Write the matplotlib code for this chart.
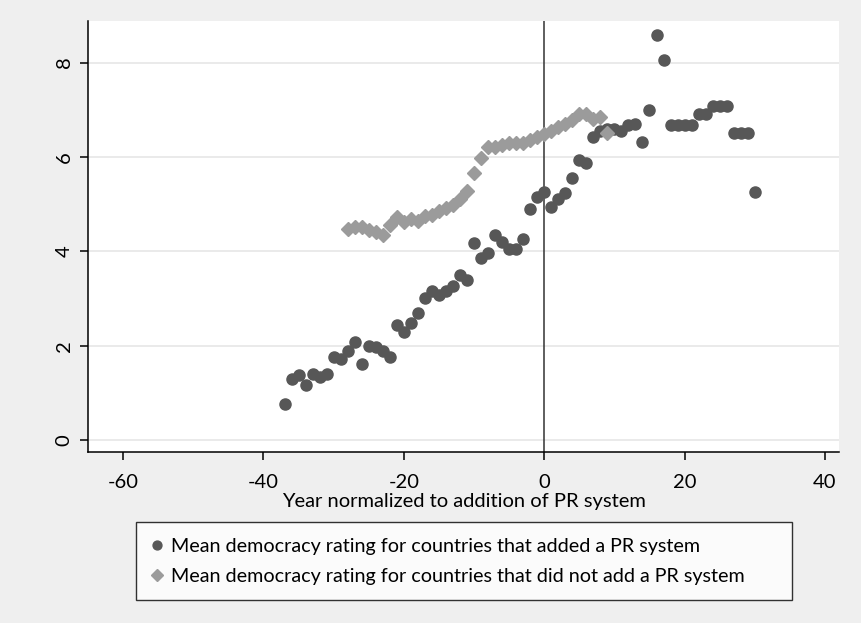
import matplotlib
matplotlib.use("Agg")
import matplotlib.pyplot as plt
from matplotlib import font_manager

# Mean democracy ratings by year relative to the addition of a PR system
years_added = list(range(-37, 31))
rating_added = [
    0.76, 1.29, 1.38, 1.17, 1.41, 1.33, 1.40, 1.76, 1.71, 1.90,
    2.09, 1.61, 2.00, 1.98, 1.89, 1.76, 2.44, 2.30, 2.49, 2.70,
    3.02, 3.17, 3.07, 3.16, 3.26, 3.49, 3.39, 4.17, 3.85, 3.97,
    4.34, 4.19, 4.06, 4.06, 4.27, 4.89, 5.16, 5.26, 4.93, 5.10,
    5.24, 5.56, 5.93, 5.87, 6.43, 6.55, 6.60, 6.60, 6.55, 6.67,
    6.69, 6.32, 7.00, 8.59, 8.06, 6.67, 6.67, 6.67, 6.67, 6.91,
    6.91, 7.08, 7.08, 7.08, 6.50, 6.50, 6.50, 5.25,
]

years_not_added = list(range(-28, 10))
rating_not_added = [
    4.47, 4.52, 4.52, 4.45, 4.40, 4.35, 4.55, 4.72, 4.62, 4.68,
    4.65, 4.75, 4.78, 4.85, 4.92, 4.98, 5.10, 5.28, 5.65, 5.98,
    6.22, 6.22, 6.25, 6.30, 6.30, 6.30, 6.35, 6.42, 6.48, 6.55,
    6.63, 6.70, 6.78, 6.90, 6.92, 6.80, 6.85, 6.50,
]

x_ticks = [-60, -40, -20, 0, 20, 40]
y_ticks = [0, 2, 4, 6, 8]

label_added = "Mean democracy rating for countries that added a PR system"
label_not_added = "Mean democracy rating for countries that did not add a PR system"
x_title = "Year normalized to addition of PR system"

installed = {f.name for f in font_manager.fontManager.ttflist}
families = [f for f in ["Lato", "Open Sans", "DejaVu Sans"] if f in installed]
plt.rcParams["font.family"] = families
plt.rcParams["axes.unicode_minus"] = False

W, H = 862, 623
fig = plt.figure(figsize=(W / 100, H / 100), dpi=100, facecolor="#efefef")
ax = fig.add_axes([88 / W, 1 - 452 / H, (839 - 88) / W, (452 - 21) / H])
ax.set_facecolor("white")

ax.set_xlim(-65, 42)
ax.set_ylim(-0.25, 8.88)

ax.axvline(0, color="#333333", lw=1.1, zorder=1)

ax.plot(years_added, rating_added, linestyle="none", marker="o", ms=8,
        color="#575757", mec="#575757", label=label_added, zorder=3)
ax.plot(years_not_added, rating_not_added, linestyle="none", marker="D", ms=7.5,
        color="#9b9b9b", mec="#9b9b9b", label=label_not_added, zorder=3)

ax.set_xticks(x_ticks)
ax.set_yticks(y_ticks)
ax.yaxis.grid(True, color="#e6e6e6", lw=1.2)
ax.set_axisbelow(True)

for side in ("top", "right"):
    ax.spines[side].set_visible(False)
for side in ("left", "bottom"):
    ax.spines[side].set_linewidth(1.1)
    ax.spines[side].set_color("black")

ax.tick_params(axis="both", direction="out", length=6, width=1.1, labelsize=14.5, colors="black")
ax.tick_params(axis="x", pad=10)
ax.tick_params(axis="y", pad=5)
for lab in ax.get_yticklabels():
    lab.set_rotation(90)
    lab.set_va("center")

ax.set_xlabel(x_title, fontsize=14.5, labelpad=1)

# legend box spans a fixed strip beneath the axes
leg = fig.legend(
    handles=ax.get_lines()[1:],
    loc="upper left",
    bbox_to_anchor=(136 / W, 1 - 594 / H, (792 - 136) / W, (594 - 522) / H),
    mode="expand",
    frameon=True, fancybox=False, edgecolor="black", facecolor="white",
    fontsize=14.2, handlelength=0.5, handletextpad=0.45, borderpad=0.8,
    labelspacing=0.65, markerscale=0.8, borderaxespad=0,
)
leg.get_frame().set_linewidth(1.0)

fig.savefig("out.png", dpi=100, facecolor=fig.get_facecolor())
